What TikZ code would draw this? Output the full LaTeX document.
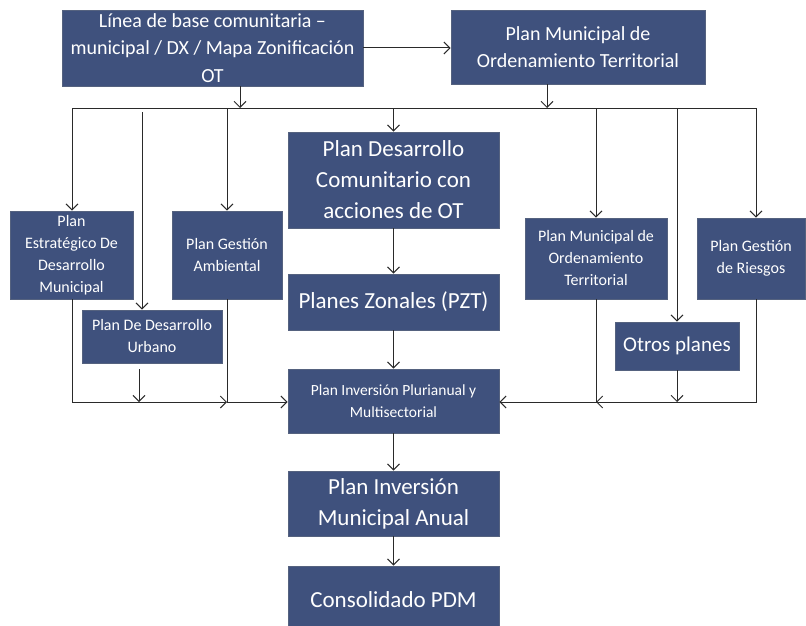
\documentclass[tikz,border=0pt]{standalone}
\usepackage{fontspec}
\setmainfont{Carlito}
\usetikzlibrary{arrows.meta}
\definecolor{boxfill}{HTML}{3F517D}
\definecolor{boxline}{HTML}{55627F}
\definecolor{linec}{HTML}{2A2A2A}
\begin{document}
\begin{tikzpicture}[x=1pt,y=-1pt,
  box/.style={draw=boxline,line width=0.8pt,fill=boxfill,text=white,align=center,inner sep=0pt},
  bigtxt/.style={font=\fontsize{23}{31}\selectfont},
  midtxt/.style={font=\fontsize{20}{27.5}\selectfont},
  smalltxt/.style={font=\fontsize{16}{22}\selectfont},
  conn/.style={draw=linec,line width=1pt},
  arr/.style={conn,-{Straight Barb[length=6pt,width=12pt,line width=1pt]}}
]
\useasboundingbox (0,0) rectangle (806,626);
% boxes
\node[box,midtxt,minimum width=301pt,minimum height=76pt] (b1) at (212.5,48) {Línea de base comunitaria –\\municipal / DX / Mapa Zonificación\\OT};
\node[box,midtxt,minimum width=254pt,minimum height=74pt] (b2) at (578,47) {Plan Municipal de\\Ordenamiento Territorial};
\node[box,smalltxt,minimum width=123pt,minimum height=88pt] (pe) at (71.5,255) {Plan\\Estratégico De\\Desarrollo\\Municipal};
\node[box,smalltxt,minimum width=110pt,minimum height=88pt] (pga) at (227,255) {Plan Gestión\\Ambiental};
\node[box,smalltxt,minimum width=140pt,minimum height=53pt] (pdu) at (152,336.5) {Plan De Desarrollo\\Urbano};
\node[box,bigtxt,minimum width=211pt,minimum height=96pt] (pdc) at (393.5,180) {Plan Desarrollo\\Comunitario con\\acciones de OT};
\node[box,bigtxt,minimum width=211pt,minimum height=56pt] (pz) at (393.5,302) {Planes Zonales (PZT)};
\node[box,font=\fontsize{15.5}{22}\selectfont,minimum width=211pt,minimum height=64pt] (pip) at (393.5,401) {Plan Inversión Plurianual y\\Multisectorial};
\node[box,bigtxt,minimum width=211pt,minimum height=65pt] (pima) at (393.5,503.5) {Plan Inversión\\Municipal Anual};
\node[box,bigtxt,minimum width=211pt,minimum height=68pt] (cpdm) at (393.5,600) {Consolidado PDM};
\node[box,smalltxt,minimum width=142pt,minimum height=81pt] (pmot) at (596,258.5) {Plan Municipal de\\Ordenamiento\\Territorial};
\node[box,smalltxt,minimum width=108pt,minimum height=81pt] (pgr) at (751,258.5) {Plan Gestión\\de Riesgos};
\node[box,font=\fontsize{21}{26}\selectfont,minimum width=124pt,minimum height=48pt] (op) at (677,346) {Otros planes};
% bus coordinates
\coordinate (busL) at (72,108);
\coordinate (busR) at (756,108);
\coordinate (j1) at (240,108);
\coordinate (j2) at (547,108);
\coordinate (du0) at (142,112);
\coordinate (dga) at (227,108);
\coordinate (ddc) at (393.5,108);
\coordinate (dmot) at (596,108);
\coordinate (dop) at (677,108);
\coordinate (lowL) at (72,402);
\coordinate (lowGA) at (227,402);
\coordinate (lowDU) at (139,402);
\coordinate (duTop) at (139,369);
\coordinate (lowR) at (756,402);
\coordinate (lowMOT) at (596,402);
\coordinate (lowOP) at (677,402);
% top connectors
\draw[arr] (b1.east |- 0,48) -- (b2.west |- 0,48);
\draw[arr] (b1.south -| j1) -- (j1);
\draw[arr] (b2.south -| j2) -- (j2);
\draw[conn] (busL) -- (busR);
% drops
\draw[arr] (busL) -- (pe.north -| busL);
\draw[arr] (du0) -- (pdu.north -| du0);
\draw[arr] (dga) -- (pga.north);
\draw[arr] (ddc) -- (pdc.north);
\draw[arr] (dmot) -- (pmot.north);
\draw[arr] (dop) -- (op.north);
\draw[arr] (busR) -- (pgr.north -| busR);
% central chain
\draw[arr] (pdc) -- (pz);
\draw[arr] (pz) -- (pip);
\draw[arr] (pip) -- (pima);
\draw[arr] (pima) -- (cpdm);
% left collection
\draw[arr] (pe.south -| lowL) -- (lowL) -- (lowGA);
\draw[arr] (pga.south) -- (lowGA) -- (pip.west |- lowGA);
\draw[arr] (duTop) -- (lowDU);
% right collection
\draw[arr] (pgr.south -| lowR) -- (lowR) -- (lowMOT);
\draw[arr] (pmot.south) -- (lowMOT) -- (pip.east |- lowMOT);
\draw[arr] (op.south) -- (lowOP);
\end{tikzpicture}
\end{document}
